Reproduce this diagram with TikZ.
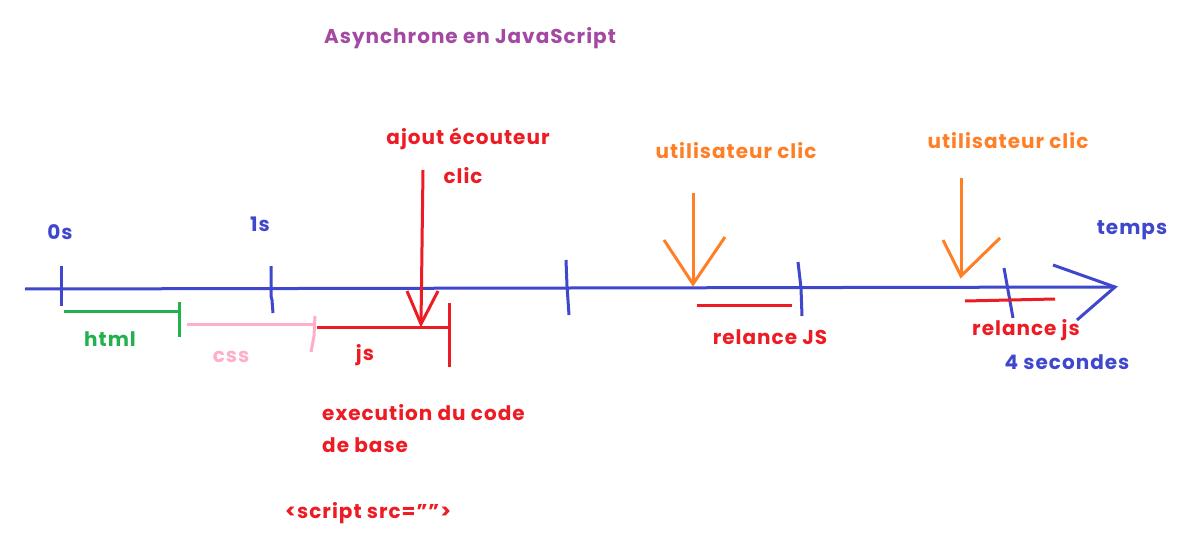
\documentclass[tikz,border=0pt]{standalone}
\usepackage{fontspec}
\setmainfont{Poppins}[LetterSpace=5]
\definecolor{pblue}{HTML}{3F48CC}
\definecolor{pgreen}{HTML}{22B14C}
\definecolor{ppink}{HTML}{FFAEC9}
\definecolor{pred}{HTML}{ED1C24}
\definecolor{porange}{HTML}{FF7F27}
\definecolor{ppurple}{HTML}{A349A4}
\begin{document}
\begin{tikzpicture}[x=1pt,y=-1pt,
  txt/.style={font=\fontsize{20}{24}\selectfont\bfseries, inner sep=0pt},
  stroke/.style={line width=3pt}]
\useasboundingbox[fill=white] (0,0) rectangle (1186,556);
% axis
\coordinate (a0) at (25,289);
\coordinate (a1) at (1115,287);
\draw[stroke,pblue] (a0) -- (a1);
\coordinate (h1) at (1053,265);
\coordinate (h2) at (1077,320);
\draw[stroke,pblue] (h1) -- (a1) -- (h2);
% ticks
\draw[stroke,pblue] (61,266) -- (61,306);
\draw[stroke,pblue] (271,266) -- (271,296) -- (272,300) -- (273,313);
\draw[stroke,pblue] (566,260) -- (567,286) -- (569,315);
\draw[stroke,pblue] (798,262) -- (801,288) -- (802,316);
\draw[stroke,pblue] (1004,268) -- (1013,318);
% labels axis
\node[txt,pblue] (s0) at (60,232) {0s};
\node[txt,pblue] (s1) at (260,224) {1s};
\node[txt,pblue] (temps) at (1132,230) {temps};
\node[txt,pblue] (four) at (1067,362) {4 secondes};
% html
\draw[stroke,pgreen] (64,311) -- (179,311);
\draw[stroke,pgreen] (179,302) -- (179,337);
\node[txt,pgreen] (html) at (110,339) {html};
% css
\draw[stroke,ppink] (187,324) -- (315,324);
\draw[stroke,ppink] (315,316) -- (314,336) -- (311,352);
\node[txt,ppink] (css) at (231,357) {css};
% js
\draw[stroke,pred] (317,327) -- (448,327);
\draw[stroke,pred] (449,303) -- (449,367);
\node[txt,pred] (js) at (365,355) {js};
% red arrow (listener)
\node[txt,pred] (ajout) at (468,139) {ajout écouteur};
\node[txt,pred] (clic) at (463,176) {clic};
\coordinate (r0) at (423,170);
\coordinate (r1) at (421,324);
\draw[stroke,pred] (r0) -- (r1);
\draw[stroke,pred] (407,291) -- (r1) -- (438,291);
\node[txt,pred,anchor=west] (exec) at (322,413) {execution du code};
\node[txt,pred,anchor=west] (base) at (322,445) {de base};
\node[txt,pred,anchor=west] (script) at (285,513) {<script src="">};
% user click 1
\node[txt,porange] (u1) at (736,151) {utilisateur clic};
\coordinate (o0) at (693,193);
\coordinate (o1) at (693,284);
\draw[stroke,porange] (o0) -- (o1);
\draw[stroke,porange] (664,240) -- (o1) -- (725,237);
\draw[stroke,pred] (697,305) -- (792,305);
\node[txt,pred] (rel1) at (770,337) {relance JS};
% user click 2
\node[txt,porange] (u2) at (1008,141) {utilisateur clic};
\coordinate (q0) at (961,178);
\coordinate (q1) at (961,276);
\draw[stroke,porange] (q0) -- (q1);
\draw[stroke,porange] (943,240) -- (q1) -- (1000,238);
\draw[stroke,pred] (965,301) -- (1055,299);
\node[txt,pred] (rel2) at (1026,330) {relance js};
% title
\node[txt,ppurple] (title) at (470,38) {Asynchrone en JavaScript};
\end{tikzpicture}
\end{document}
